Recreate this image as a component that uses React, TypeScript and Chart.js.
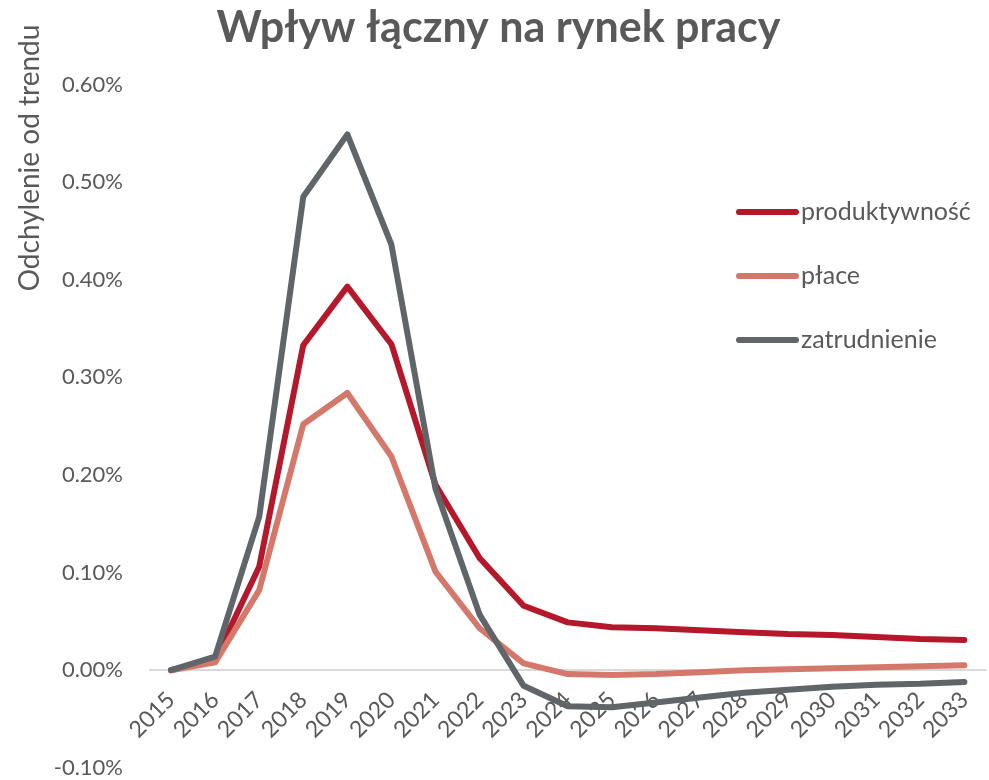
import React, { useEffect, useRef } from "react";
import { Chart, registerables } from "chart.js";

Chart.register(...registerables);

const chartTitle = "Wpływ łączny na rynek pracy";
const yAxisTitle = "Odchylenie od trendu";

const years = [
  "2015", "2016", "2017", "2018", "2019", "2020", "2021", "2022", "2023", "2024",
  "2025", "2026", "2027", "2028", "2029", "2030", "2031", "2032", "2033",
];

const seriesNames = ["produktywność", "płace", "zatrudnienie"];
const seriesColors = ["#B5172B", "#D5786C", "#5F6569"];

// values in percent
const produktywnosc = [0, 0.011, 0.106, 0.333, 0.393, 0.334, 0.19, 0.115, 0.066, 0.049, 0.044, 0.043, 0.041, 0.039, 0.037, 0.036, 0.034, 0.032, 0.031];
const place = [0, 0.008, 0.082, 0.252, 0.284, 0.219, 0.101, 0.043, 0.007, -0.004, -0.005, -0.004, -0.002, 0.0, 0.001, 0.002, 0.003, 0.004, 0.005];
const zatrudnienie = [0, 0.014, 0.157, 0.485, 0.549, 0.436, 0.186, 0.057, -0.016, -0.037, -0.038, -0.033, -0.028, -0.023, -0.02, -0.017, -0.015, -0.014, -0.012];

const yMin = -0.1;
const yMax = 0.6;
const yStep = 0.1;

const TEXT = "#595959";
const FONT = "Lato";

const yTitlePlugin = {
  id: "yTitleText",
  afterDraw(chart: any) {
    const ctx = chart.ctx;
    ctx.save();
    ctx.translate(30, 158);
    ctx.rotate(-Math.PI / 2);
    ctx.fillStyle = TEXT;
    ctx.font = `28px ${FONT}`;
    ctx.textAlign = "center";
    ctx.textBaseline = "middle";
    ctx.fillText(yAxisTitle, 0, 0);
    ctx.restore();
  },
};

const legendPlugin = {
  id: "sideLegend",
  afterDraw(chart: any) {
    const ctx = chart.ctx;
    ctx.save();
    chart.data.datasets.forEach((ds: any, i: number) => {
      const y = 212 + i * 64;
      ctx.strokeStyle = ds.borderColor;
      ctx.lineWidth = 6;
      ctx.lineCap = "round";
      ctx.beginPath();
      ctx.moveTo(739, y);
      ctx.lineTo(796, y);
      ctx.stroke();
      ctx.fillStyle = TEXT;
      ctx.font = `25px ${FONT}`;
      ctx.textAlign = "left";
      ctx.textBaseline = "middle";
      ctx.fillText(ds.label, 801, y);
    });
    ctx.restore();
  },
};

export default function App() {
  const ref = useRef<HTMLCanvasElement | null>(null);

  useEffect(() => {
    if (!ref.current) return;
    const series = [produktywnosc, place, zatrudnienie];
    const orders = [2, 1, 0];
    const chart = new Chart(ref.current, {
      type: "line",
      data: {
        labels: years,
        datasets: series.map((d, i) => ({
          label: seriesNames[i],
          data: d,
          borderColor: seriesColors[i],
          backgroundColor: seriesColors[i],
          borderWidth: 6,
          borderCapStyle: "round",
          borderJoinStyle: "round",
          pointRadius: 0,
          pointHoverRadius: 0,
          tension: 0,
          fill: false,
          order: orders[i],
        })),
      },
      options: {
        animation: false,
        responsive: false,
        devicePixelRatio: 1,
        events: [],
        layout: { padding: { left: 0, right: 3, top: 0, bottom: 13 } },
        plugins: {
          legend: { display: false },
          tooltip: { enabled: false },
          title: {
            display: true,
            text: chartTitle,
            color: TEXT,
            font: { family: FONT, size: 43, weight: "bold", lineHeight: 1.2 },
            padding: { top: 2, bottom: 31 },
          },
        },
        scales: {
          x: {
            type: "category",
            position: { y: 0 },
            offset: true,
            grid: { display: false, drawTicks: false },
            border: { display: false },
            ticks: {
              color: TEXT,
              font: { family: FONT, size: 23 },
              minRotation: 45,
              maxRotation: 45,
              autoSkip: false,
              padding: 16,
            },
          },
          y: {
            min: yMin,
            max: yMax,
            afterFit: (scale: any) => {
              scale.width = 149;
            },
            border: { display: false },
            grid: {
              drawTicks: false,
              lineWidth: 2,
              color: (c: any) =>
                c.tick && Math.abs(c.tick.value) < 1e-9 ? "#D9D9D9" : "rgba(0,0,0,0)",
            },
            ticks: {
              stepSize: yStep,
              color: TEXT,
              font: { family: FONT, size: 22 },
              padding: 26,
              callback: (v: any) => (Math.round(Number(v) * 100) / 100).toFixed(2) + "%",
            },
          },
        },
      },
      plugins: [yTitlePlugin, legendPlugin],
    } as any);
    return () => chart.destroy();
  }, []);

  return (
    <div
      style={{
        position: "fixed",
        left: 0,
        top: 0,
        width: 989,
        height: 780,
        overflow: "hidden",
        background: "#fff",
      }}
    >
      <canvas ref={ref} width={1000} height={807} style={{ display: "block", width: 1000, height: 807 }} />
    </div>
  );
}
